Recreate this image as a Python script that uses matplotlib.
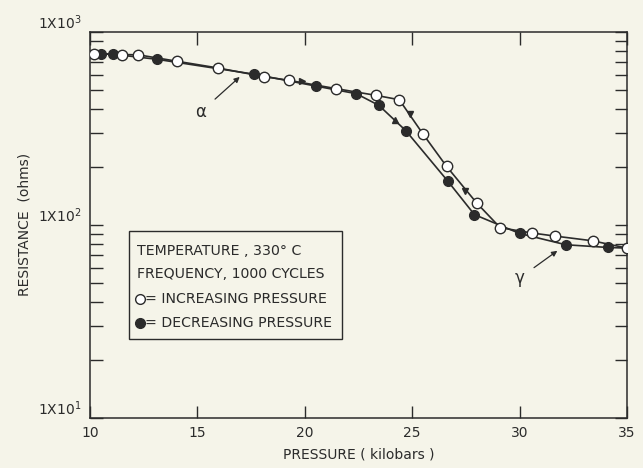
import matplotlib
matplotlib.use('Agg')
import matplotlib.pyplot as plt
import matplotlib.ticker as mticker

# --- Data ---
inc_pressure = [10.2, 11.5, 12.25, 14.05, 15.95, 18.1, 19.25, 21.45, 23.3, 24.4,
                25.5, 26.6, 28.0, 29.1, 30.6, 31.65, 33.4, 35.0]
inc_resist = [770, 763, 760, 704, 650, 586, 561, 508, 469, 445,
              296, 201, 130, 96.7, 90.7, 87.5, 82.7, 75.8]

dec_pressure = [10.5, 11.05, 13.1, 17.65, 20.5, 22.4, 23.45, 24.7, 26.65, 27.9,
                30.0, 32.15, 34.1, 35.0]
dec_resist = [771, 766, 721, 603, 524, 478, 416, 308, 169, 113,
              90.3, 78.9, 76.4, 75.8]

# direction arrows drawn on the curves
arrow_p = [19.85, 24.9, 27.45, 24.2]
arrow_r = [554, 376, 150, 348]
arrow_m = ['>', 'v', 'v', '^']

y_ticks = [10, 100, 1000]
y_tick_labels = [r'1X10$^{1}$', r'1X10$^{2}$', r'1X10$^{3}$']
x_ticks = [10, 15, 20, 25, 30, 35]

legend_lines = ['TEMPERATURE , 330° C', 'FREQUENCY, 1000 CYCLES',
                '= INCREASING PRESSURE', '= DECREASING PRESSURE']

PAPER = '#f5f4e9'
INK = '#2b2b2b'

plt.rcParams['font.family'] = ['DejaVu Sans']

fig = plt.figure(figsize=(6.43, 4.68), dpi=100, facecolor=PAPER)
ax = fig.add_axes([0.14, 0.107, 0.835, 0.825], facecolor=PAPER)

ax.plot(inc_pressure, inc_resist, color=INK, linewidth=1.2, zorder=2)
ax.plot(dec_pressure, dec_resist, color=INK, linewidth=1.2, zorder=2)
ax.plot(dec_pressure[:-1], dec_resist[:-1], 'o', color=INK, markersize=7,
        markeredgecolor=INK, zorder=3)
ax.plot(inc_pressure, inc_resist, 'o', markerfacecolor='white', markersize=7.5,
        markeredgecolor=INK, markeredgewidth=1.0, zorder=4)
for p, r, m in zip(arrow_p, arrow_r, arrow_m):
    ax.plot(p, r, marker=m, color=INK, markersize=5, zorder=3)

ax.set_yscale('log')
ax.set_xlim(10, 35)
ax.set_ylim(10, 1000)
ax.set_xticks(x_ticks)
ax.set_yticks(y_ticks)
ax.set_yticklabels(y_tick_labels)
ax.yaxis.set_minor_locator(mticker.LogLocator(base=10, subs=range(2, 10)))
ax.yaxis.set_minor_formatter(mticker.NullFormatter())
ax.tick_params(which='both', direction='in', top=True, right=True,
               length=9, width=1.0, color=INK, labelsize=10, labelcolor=INK)
ax.tick_params(axis='y', which='major', pad=6)
ax.tick_params(axis='x', which='major', pad=6)
for s in ax.spines.values():
    s.set_color(INK)
    s.set_linewidth(1.1)
# y tick labels sit a bit above their tick in the original
for lab in ax.get_yticklabels():
    lab.set_verticalalignment('bottom')

ax.set_xlabel('PRESSURE ( kilobars )', fontsize=10, color=INK, labelpad=5)
ax.set_ylabel('RESISTANCE  (ohms)', fontsize=10, color=INK, labelpad=5)

# phase annotations
ax.annotate('α', xy=(16.97, 584), xytext=(15.15, 384), fontsize=12, color=INK,
            ha='center', va='center',
            arrowprops=dict(arrowstyle='-|>', color=INK, lw=0.9,
                            shrinkA=6, shrinkB=0, mutation_scale=8))
ax.annotate('γ', xy=(31.76, 73.4), xytext=(30.0, 53), fontsize=12, color=INK,
            ha='center', va='center',
            arrowprops=dict(arrowstyle='-|>', color=INK, lw=0.9,
                            shrinkA=6, shrinkB=0, mutation_scale=8))

# legend box
box = plt.Rectangle((0.0725, 0.2035), 0.3965, 0.2815, transform=ax.transAxes,
                    fill=False, edgecolor=INK, linewidth=1.0, zorder=5)
ax.add_patch(box)
line_y = [0.433, 0.372, 0.309, 0.247]
for i, (txt, yy) in enumerate(zip(legend_lines, line_y)):
    x0 = 0.088
    if i == 2:
        ax.plot([x0 + 0.006], [yy], 'o', transform=ax.transAxes, markersize=7,
                markerfacecolor='white', markeredgecolor=INK, clip_on=False)
        x0 += 0.014
    elif i == 3:
        ax.plot([x0 + 0.006], [yy], 'o', transform=ax.transAxes, markersize=7,
                color=INK, clip_on=False)
        x0 += 0.014
    ax.text(x0, yy, txt, transform=ax.transAxes, fontsize=10.2, color=INK,
            ha='left', va='center')

fig.savefig('out.png', dpi=100, facecolor=PAPER)
